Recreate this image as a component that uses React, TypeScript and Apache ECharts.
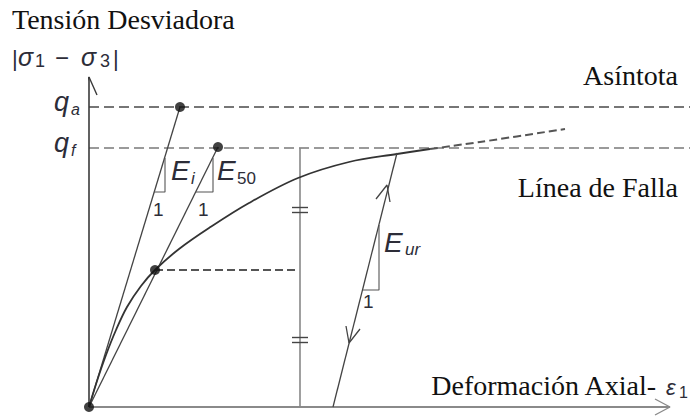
import React, { useEffect, useRef } from 'react';
import * as echarts from 'echarts';

// ---- data (x: axial strain, y: deviator stress; arbitrary units) ----
const QA = 300; // asymptote q_a
const QF = 259; // failure q_f
const Q50 = 137; // q_f / 2 point
const yTickValues = [QA, QF];
const yTickSubs = ['a', 'f'];

const curveStrain = [0, 8, 17, 27, 38, 52, 66, 90, 120, 160, 209, 260, 308, 341];
const curveStress = [0, 26, 52, 77, 100, 121, 137, 158, 179, 204, 229, 245, 253, 258];
const extStrain = [341, 391, 476];
const extStress = [258, 265, 278];

const eiTip = [91, 300];
const e50Tip = [129, 260];
const halfPt = [66, 137];
const vertStrain = 211;
const halfDashEnd = 206;
const eurStrain = [244, 308];
const eurStress = [0, 254];
const dashEnd = 601;
const xAxisEnd = 581;
const yAxisEnd = 330;

const eiTriX = [65, 76, 76];
const eiTriY = [215, 215, 249];
const e50TriX = [107, 124, 124];
const e50TriY = [215, 215, 249];
const eurTriX = [274, 290, 290];
const eurTriY = [117, 117, 182];

const upArrowX = [287, 298, 301];
const upArrowY = [208, 222, 205];
const downArrowX = [257, 260, 271];
const downArrowY = [81, 64, 78];
const yArrowX = [-8, 0, 8];
const yArrowY = [312, 330, 312];
const xArrowX = [566, 581, 566];
const xArrowY = [8, 0, -8];
const eqMarkStress = [197, 67];

const SERIF = '"Liberation Serif", "Times New Roman", serif';
const SANS = '"Liberation Sans", Arial, sans-serif';
const MATH = '#2d2d38';

const pts = (xs: number[], ys: number[]) => xs.map((x, i) => [x, ys[i]]);

function seg(xs: number[], ys: number[], color: string, width: number, type: any = 'solid', extra: any = {}) {
  return {
    type: 'line',
    data: pts(xs, ys),
    showSymbol: false,
    symbol: 'none',
    clip: false,
    silent: true,
    lineStyle: { color, width, type, cap: 'butt' },
    ...extra,
  };
}

function txt(text: string, x: number, baseline: number, size: number, o: any = {}) {
  const family = o.family || SANS;
  const k = family === SERIF ? 0.3375 : 0.3465;
  const align = o.align || 'left';
  return {
    type: 'text',
    x,
    y: baseline - k * size,
    silent: true,
    style: {
      text,
      font: `${o.italic ? 'italic ' : ''}${size}px ${family}`,
      fill: o.fill || MATH,
      textAlign: align,
      align,
      textVerticalAlign: 'middle',
      verticalAlign: 'middle',
      textBaseline: 'middle',
    },
  };
}

const staticTexts = [
  txt('Tensión Desviadora', 12, 29, 28, { family: SERIF, fill: '#111' }),
  txt('Asíntota', 678, 85, 28, { family: SERIF, fill: '#111', align: 'right' }),
  txt('Línea de Falla', 678, 197, 28, { family: SERIF, fill: '#111', align: 'right' }),
  txt('Deformación Axial-', 656, 395, 28, { family: SERIF, fill: '#111', align: 'right' }),
  txt('ε', 666, 395, 22, { italic: true }),
  txt('1', 679, 398, 16),
  // |σ1 − σ3|
  txt('|', 12, 66, 22),
  txt('σ', 18, 66, 25, { italic: true }),
  txt('1', 35, 67, 18),
  txt('−', 55, 66, 24),
  txt('σ', 81, 66, 25, { italic: true }),
  txt('3', 100, 67, 18),
  txt('|', 113, 66, 22),
  // moduli
  txt('E', 171, 180, 28, { italic: true }),
  txt('i', 191, 184, 17, { italic: true }),
  txt('E', 217, 180, 28, { italic: true }),
  txt('50', 237, 184, 17),
  txt('1', 153, 216, 19),
  txt('1', 198, 216, 19),
  txt('E', 384, 252, 28, { italic: true }),
  txt('ur', 405, 255, 17, { italic: true }),
  txt('1', 363, 308, 19),
];

const eqMarks: any[] = [];
eqMarkStress.forEach((s) => {
  eqMarks.push(seg([vertStrain - 8, vertStrain + 8], [s + 2.5, s + 2.5], '#444', 1.4));
  eqMarks.push(seg([vertStrain - 8, vertStrain + 8], [s - 2.5, s - 2.5], '#444', 1.4));
});

const option: any = {
  animation: false,
  backgroundColor: '#fff',
  grid: { left: 89, top: 67, width: 600, height: 340 },
  xAxis: { type: 'value', min: 0, max: 600, show: false },
  yAxis: { type: 'value', min: 0, max: 340, show: false },
  series: [
    // dashed reference lines
    seg([0, dashEnd], [QA, QA], '#4a4a4a', 1.5, [10, 5]),
    seg([0, dashEnd], [QF, QF], '#9a9a9a', 2, [10, 5]),
    seg([halfPt[0], halfDashEnd], [Q50, Q50], '#555', 2, [8, 4]),
    // axes
    seg([0, xAxisEnd], [0, 0], '#8a8a8a', 2),
    seg(xArrowX, xArrowY, '#8a8a8a', 1.4),
    seg([0, 0], [0, yAxisEnd], '#3a3a3a', 1.6),
    seg(yArrowX, yArrowY, '#3a3a3a', 1.4),
    // moduli lines
    seg([0, eiTip[0]], [0, eiTip[1]], '#444', 1.3),
    seg([0, e50Tip[0]], [0, e50Tip[1]], '#444', 1.3),
    seg(eiTriX, eiTriY, '#555', 1.1),
    seg(e50TriX, e50TriY, '#555', 1.1),
    // vertical q_f line with equal marks
    seg([vertStrain, vertStrain], [0, QF], '#888', 1.6),
    ...eqMarks,
    // stress-strain curve
    seg(curveStrain, curveStress, '#333', 1.8, 'solid', { smooth: 0.35 }),
    seg(extStrain, extStress, '#555', 2, [8, 4], { smooth: 0.3 }),
    // unload-reload
    seg(eurStrain, eurStress, '#444', 1.3),
    seg(upArrowX, upArrowY, '#444', 1.3),
    seg(downArrowX, downArrowY, '#444', 1.3),
    seg(eurTriX, eurTriY, '#555', 1.1),
    // dots
    {
      type: 'scatter',
      data: [[0, 0], eiTip, e50Tip, halfPt],
      symbolSize: 10,
      clip: false,
      silent: true,
      itemStyle: { color: '#111' },
      z: 5,
    },
  ],
};

export default function App() {
  const ref = useRef<HTMLDivElement>(null);
  useEffect(() => {
    const chart = echarts.init(ref.current!, null, { renderer: 'svg' });
    chart.setOption(option);
    const tickTexts: any[] = [];
    yTickValues.forEach((v, i) => {
      const p = chart.convertToPixel({ gridIndex: 0 }, [0, v]) as number[];
      tickTexts.push(txt('q', 54, p[1] + 4, 27, { italic: true }));
      tickTexts.push(txt(yTickSubs[i], 71, p[1] + 8, 16, { italic: true }));
    });
    chart.setOption({ graphic: [...staticTexts, ...tickTexts] });
    return () => chart.dispose();
  }, []);
  return (
    <div
      ref={ref}
      style={{ position: 'fixed', left: 0, top: 0, width: 692, height: 416, background: '#fff' }}
    />
  );
}
